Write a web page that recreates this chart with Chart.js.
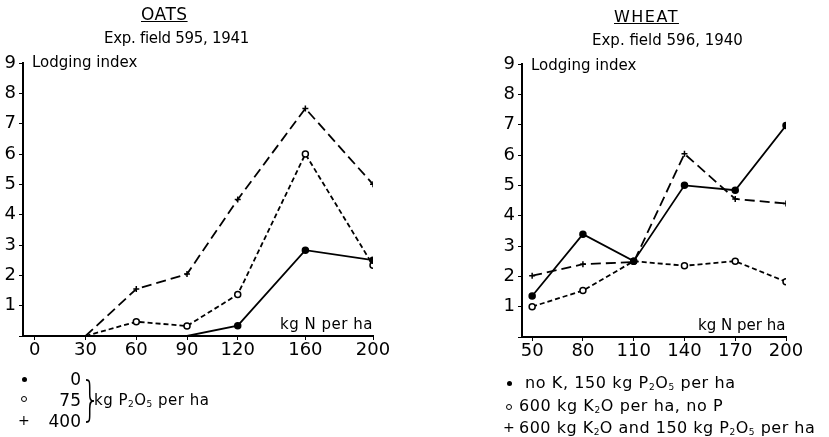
<!DOCTYPE html>
<html>
<head>
<meta charset="utf-8">
<script src="https://cdn.jsdelivr.net/npm/chart.js@4/dist/chart.umd.min.js"></script>
<style>
  body { margin: 0; background: #fff; width: 829px; height: 437px; position: relative; overflow: hidden; font-family: "DejaVu Sans", sans-serif; color: #000; }
  .box { position: absolute; top: 0; height: 437px; }
  .t { position: absolute; white-space: nowrap; line-height: 20px; }
  sub { font-size: 9px; vertical-align: -2px; }
  .mk { position: absolute; }
</style>
</head>
<body>
<div class="box" style="left:0;width:420px"><canvas id="oats"></canvas></div>
<div class="box" style="left:410px;width:419px"><canvas id="wheat"></canvas></div>

<!-- titres -->
<div class="t" style="left:141px;top:4px;font-size:17px;text-decoration:underline;letter-spacing:0.5px">OATS</div>
<div class="t" style="left:104px;top:28px;font-size:15px;letter-spacing:-0.3px">Exp. field 595, 1941</div>
<div class="t" style="left:614px;top:7px;font-size:16px;text-decoration:underline;letter-spacing:1.5px">WHEAT</div>
<div class="t" style="left:592px;top:30px;font-size:15px;letter-spacing:0px">Exp. field 596, 1940</div>

<div class="t" style="left:32px;top:52px;font-size:15px">Lodging index</div>
<div class="t" style="left:531px;top:55px;font-size:15px">Lodging index</div>
<div class="t" style="left:280px;top:314px;font-size:15px;letter-spacing:0.5px">kg N per ha</div>
<div class="t" style="left:698px;top:315px;font-size:15px">kg N per ha</div>

<!-- legende avoine -->
<div class="mk" style="left:22px;top:377px;width:5px;height:5px;border-radius:50%;background:#000"></div>
<div class="mk" style="left:21px;top:396px;width:4px;height:4px;border-radius:50%;border:1.5px solid #000"></div>
<div class="t" style="left:18px;top:410px;font-size:14px">+</div>
<div class="t" style="left:37px;top:369px;width:44px;text-align:right;font-size:17px">0</div>
<div class="t" style="left:37px;top:390px;width:44px;text-align:right;font-size:17px">75</div>
<div class="t" style="left:37px;top:411px;width:44px;text-align:right;font-size:17px">400</div>
<div class="t" style="left:81px;top:380px;font-size:30px;line-height:40px;transform:scaleY(1.6);font-weight:300">}</div>
<div class="t" style="left:94px;top:390px;font-size:15px;letter-spacing:0.5px">kg P<sub>2</sub>O<sub>5</sub> per ha</div>

<!-- legende ble -->
<div class="mk" style="left:507px;top:381px;width:5px;height:5px;border-radius:50%;background:#000"></div>
<div class="mk" style="left:506px;top:404px;width:4px;height:4px;border-radius:50%;border:1.5px solid #000"></div>
<div class="t" style="left:503px;top:417px;font-size:14px">+</div>
<div class="t" style="left:525px;top:373px;font-size:16px;letter-spacing:0.6px">no K, 150 kg P<sub>2</sub>O<sub>5</sub> per ha</div>
<div class="t" style="left:519px;top:396px;font-size:16px;letter-spacing:0.6px">600 kg K<sub>2</sub>O per ha, no P</div>
<div class="t" style="left:519px;top:418px;font-size:16px;letter-spacing:0.5px">600 kg K<sub>2</sub>O and 150 kg P<sub>2</sub>O<sub>5</sub> per ha</div>

<script>
// Avoine (OATS) : kg N par ha
const oatsN = [0, 30, 60, 90, 120, 160, 200];
const oatsTicks = [0, 30, 60, 90, 120, 160, 200];
const oatsP0 = [0, 0, 0, 0, 0.34, 2.83, 2.5];
const oatsP75 = [null, 0, 0.47, 0.33, 1.37, 6.0, 2.33];
const oatsP400 = [null, 0, 1.55, 2.04, 4.5, 7.5, 5.0];

// Ble (WHEAT)
const wheatN = [50, 80, 110, 140, 170, 200];
const wheatTicks = [50, 80, 110, 140, 170, 200];
const wheatNoK = [1.35, 3.39, 2.5, 5.0, 4.84, 6.97];
const wheatKnoP = [1.0, 1.53, 2.5, 2.35, 2.5, 1.82];
const wheatKP = [2.02, 2.4, 2.47, 6.04, 4.55, 4.4];

const yTicks = [0, 1, 2, 3, 4, 5, 6, 7, 8, 9];

const fontTicks = { family: "'DejaVu Sans', sans-serif", size: 18 };

function points(xs, ys) {
  const res = [];
  for (let i = 0; i < xs.length; i++) {
    if (ys[i] !== null) res.push({ x: xs[i], y: ys[i] });
  }
  return res;
}

// rayon nul quand le point est sur l'axe
const rayon = (ctx) => (ctx.raw && ctx.raw.y === 0 ? 0 : 3);

function serie(xs, ys, style, dash) {
  return {
    data: points(xs, ys),
    borderColor: "#000",
    borderWidth: 1.8,
    borderDash: dash,
    pointStyle: style === "plus" ? "cross" : "circle",
    pointRadius: rayon,
    pointBorderWidth: 1.5,
    pointBackgroundColor: style === "filled" ? "#000" : "#fff",
    pointBorderColor: "#000",
    tension: 0,
  };
}

function config(datasets, xmin, ticksX, pad, yWidth) {
  return {
    type: "line",
    data: { datasets: datasets },
    options: {
      animation: false,
      responsive: true,
      maintainAspectRatio: false,
      layout: { padding: pad },
      plugins: { legend: { display: false }, tooltip: { enabled: false } },
      scales: {
        x: {
          type: "linear",
          min: xmin,
          max: 200,
          afterBuildTicks: (s) => { s.ticks = ticksX.map((v) => ({ value: v })); },
          afterFit: (s) => { s.height = 30; },
          ticks: { color: "#000", font: fontTicks, padding: 0, maxRotation: 0, autoSkip: false },
          grid: { drawOnChartArea: false, drawTicks: true, tickLength: 4, color: "#000" },
          border: { display: true, color: "#000", width: 2 },
        },
        y: {
          min: 0,
          max: 9,
          afterBuildTicks: (s) => { s.ticks = yTicks.map((v) => ({ value: v })); },
          afterFit: (s) => { s.width = yWidth; },
          ticks: {
            color: "#000",
            font: fontTicks,
            padding: 3,
            callback: (v) => (v === 0 ? "" : v),
          },
          grid: { drawOnChartArea: false, drawTicks: true, tickLength: 4, color: "#000" },
          border: { display: true, color: "#000", width: 2 },
        },
      },
    },
  };
}

new Chart(document.querySelector("#oats"), config([
  serie(oatsN, oatsP0, "filled", []),
  serie(oatsN, oatsP75, "open", [5, 3]),
  serie(oatsN, oatsP400, "plus", [10, 5]),
], -7, oatsTicks, { left: 0, top: 63, right: 47, bottom: 71 }, 23));

new Chart(document.querySelector("#wheat"), config([
  serie(wheatN, wheatNoK, "filled", []),
  serie(wheatN, wheatKnoP, "open", [5, 3]),
  serie(wheatN, wheatKP, "plus", [10, 5]),
], 44, wheatTicks, { left: 87, top: 64, right: 43, bottom: 70 }, 25));
</script>
</body>
</html>
